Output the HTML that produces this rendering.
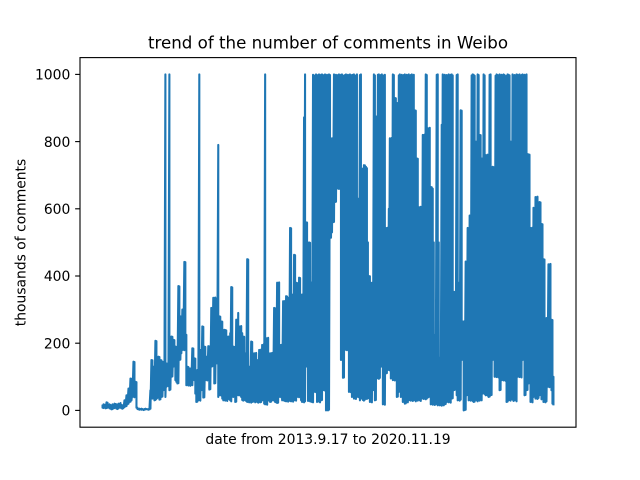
<!DOCTYPE html>
<html>
<head>
<meta charset="utf-8">
<title>trend of the number of comments in Weibo</title>
<style>
html,body{margin:0;padding:0;background:#fff}
svg{display:block}
text{font-family:"DejaVu Sans","Liberation Sans",sans-serif;fill:#000}
</style>
</head>
<body>
<svg id="chart" width="640" height="480" viewBox="0 0 640 480" xmlns="http://www.w3.org/2000/svg">
  <rect x="0" y="0" width="640" height="480" fill="#fff"/>
  <g id="plot"></g>
  <rect x="80" y="57.6" width="496" height="369.6" fill="none" stroke="#000" stroke-width="1.11"/>
  <g id="yaxis"></g>
  <text x="328" y="48.5" font-size="16.67" text-anchor="middle">trend of the number of comments in Weibo</text>
  <text x="328" y="444" font-size="13.89" text-anchor="middle">date from 2013.9.17 to 2020.11.19</text>
  <text transform="translate(25.5,242.5) rotate(-90)" font-size="13.89" text-anchor="middle">thousands of comments</text>
</svg>
<script>
var yTicks = [0, 200, 400, 600, 800, 1000];
var periodHigh = [
14,18,17,14,24,23,16,18,
16,12,18,17,20,19,18,17,20,19,
22,16,15,12,30,29,45,44,65,64,
95,94,60,145,144,85,84,8,4,5,
4,5,4,3,4,5,4,3,4,5,
60,150,149,130,129,207,206,75,160,159,
150,149,145,144,130,1000,140,139,100,1000,
130,220,219,210,209,190,189,100,370,369,
280,279,300,299,442,441,225,130,129,125,
124,126,185,184,155,154,110,120,119,1000,
180,179,250,249,190,189,160,159,191,188,
192,305,304,335,334,336,333,140,790,280,
279,265,264,200,240,239,238,195,220,219,
230,367,366,190,189,140,270,269,290,250,
249,251,230,220,219,170,169,450,449,130,
129,205,204,131,170,169,171,150,128,180,
179,181,195,194,200,1000,215,214,216,130,
170,169,171,150,305,304,130,380,379,381,
195,194,196,325,324,326,340,339,335,334,
543,542,345,344,463,462,380,379,170,395,
394,345,344,346,872,1000,560,559,380,500,
499,381,379,999,997,800,1000,996,998,1000,
997,999,1000,995,998,1000,996,999,997,1000,
998,800,810,809,1000,997,999,995,998,1000,
996,999,1000,997,995,998,1000,996,999,997,
1000,995,998,999,1000,996,997,1000,630,629,
998,1000,590,720,730,729,725,721,500,400,
399,380,379,381,1000,997,875,874,999,1000,
996,998,1000,605,997,999,543,542,544,600,
810,809,811,1000,998,930,929,915,914,997,
1000,996,999,995,998,1000,997,999,996,1000,
995,998,1000,997,999,893,892,750,749,605,
604,606,603,820,819,821,1000,998,840,839,
841,665,664,660,500,225,224,999,1000,500,
157,156,850,1000,997,999,996,998,600,1000,
995,999,1000,997,353,352,354,998,1000,380,
379,893,892,265,264,266,443,442,543,542,
580,579,997,1000,999,996,800,600,1000,998,
820,819,750,749,1000,997,760,759,761,758,
999,1000,523,725,724,500,996,1000,998,997,
1000,995,999,997,1000,998,800,996,1000,999,
997,800,799,1000,996,998,995,1000,999,997,
1000,996,998,1000,995,999,997,1000,763,762,
761,543,542,544,603,602,635,634,636,430,
620,619,555,554,450,449,255,275,274,435,
434,436,270,269,100
];
var periodLow = [
8,7,9,6,7,8,10,6,
5,3,4,6,7,8,5,4,6,9,
8,6,5,7,10,12,13,18,20,25,
26,30,40,41,39,42,8,4,3,2,
3,2,3,1,2,3,4,3,2,3,
5,60,35,36,30,31,34,37,60,32,
33,40,41,60,61,40,70,100,72,60,
62,100,101,130,131,90,85,80,81,150,
151,170,180,181,179,200,75,76,74,77,
73,78,75,100,90,50,25,26,30,31,
29,60,61,38,39,90,91,89,100,62,
63,130,131,150,80,81,140,141,40,45,
46,44,35,30,31,29,32,28,50,33,
30,27,60,40,41,25,26,60,45,46,
44,40,31,29,32,30,28,25,26,24,
27,23,25,26,30,24,27,25,23,26,
24,25,30,31,20,18,19,17,30,29,
25,26,30,31,29,25,24,22,23,40,
41,39,30,31,29,28,27,29,26,40,
28,27,29,26,30,31,29,40,41,39,
42,30,25,26,24,27,130,131,28,29,
27,26,25,24,55,56,54,25,57,26,
24,30,31,60,61,59,0,1,0,2,
513,514,530,560,561,620,621,660,661,659,
662,150,151,97,98,180,181,179,182,55,
56,54,40,41,35,36,34,40,41,39,
30,35,36,31,29,32,35,34,37,36,
25,26,24,60,61,30,31,95,96,94,
97,130,131,18,19,17,110,111,120,121,
119,95,96,90,91,89,170,40,41,55,
56,40,41,25,26,20,21,25,24,30,
31,29,32,28,30,33,27,31,29,34,
30,28,35,36,34,37,33,35,38,40,
41,18,19,17,20,16,18,21,15,19,
15,16,14,17,15,18,19,25,26,24,
27,23,35,36,60,61,70,45,30,31,
29,32,150,151,0,1,2,45,46,30,
31,29,32,28,25,26,33,30,27,31,
29,34,30,50,51,49,45,46,44,40,
41,45,46,150,151,100,101,99,102,98,
60,61,90,91,89,92,88,25,26,30,
31,29,60,32,28,30,33,27,100,101,
99,102,98,150,151,45,46,60,61,80,
81,25,26,24,40,41,35,36,34,37,
45,46,33,35,25,26,24,27,70,71,
69,72,60,20,18
];

var SVG_NS = 'http://www.w3.org/2000/svg';

function xScale(i) {
  return 102.55 + i * (450.9 / (periodHigh.length - 1));
}
function yScale(v) {
  return 410.4 - v * 0.336;
}

var plot = document.getElementById('plot');
var d = '';
for (var i = 0; i < periodHigh.length; i++) {
  var xNow = xScale(i);
  d += (i === 0 ? 'M' : 'L') + xNow.toFixed(2) + ' ' + yScale(periodHigh[i]).toFixed(2);
  d += 'L' + xNow.toFixed(2) + ' ' + yScale(periodLow[i]).toFixed(2);
}
var line = document.createElementNS(SVG_NS, 'path');


line.setAttribute('d', d);
line.setAttribute('fill', 'none');
line.setAttribute('stroke', '#1f77b4');
line.setAttribute('stroke-width', '2.08');
line.setAttribute('stroke-linejoin', 'round');
line.setAttribute('stroke-linecap', 'square');
plot.appendChild(line);

var yaxis = document.getElementById('yaxis');
yTicks.forEach(function (t) {
  var y = yScale(t);
  var mark = document.createElementNS(SVG_NS, 'line');
  
  
  mark.setAttribute('x1', 75.14);
  mark.setAttribute('x2', 80);
  mark.setAttribute('y1', y);
  mark.setAttribute('y2', y);
  mark.setAttribute('stroke', '#000');
  mark.setAttribute('stroke-width', '1.11');
  yaxis.appendChild(mark);
  var label = document.createElementNS(SVG_NS, 'text');
  
  
  label.setAttribute('x', 70.3);
  label.setAttribute('y', y + 5.2);
  label.setAttribute('font-size', '13.89');
  label.setAttribute('text-anchor', 'end');
  label.textContent = String(t);
  yaxis.appendChild(label);
});
</script>
</body>
</html>
